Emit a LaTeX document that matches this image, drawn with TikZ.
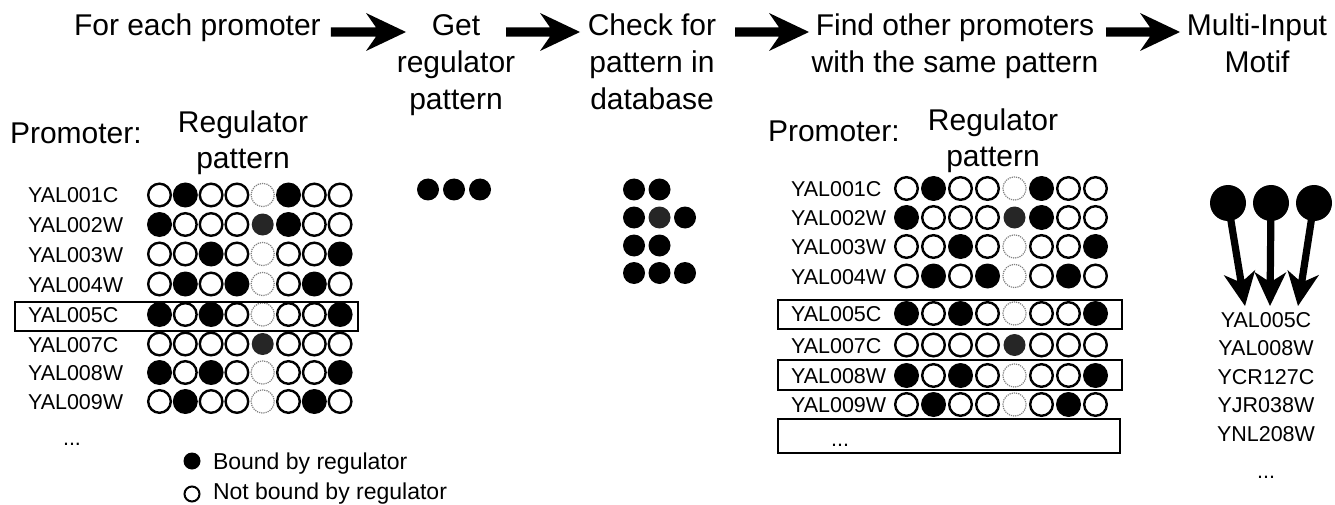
\documentclass[tikz,border=0pt]{standalone}
\usepackage{fontspec}
\setmainfont{Liberation Sans}
\usetikzlibrary{calc}

% one row of regulator-binding circles: x of first centre, y of centre, pitch, list of styles
\newcommand\patrow[4]{%
  \foreach \s [count=\j from 0] in {#4} {\path[\s] (#1+\j*#3, #2) circle;}}

% solid block arrow from coordinate #1 to tip coordinate #2:
% #3 half shaft width, #4 head length, #5 half head width, #6 notch depth
\newcommand\fatarrow[6]{%
  \coordinate (fa-h) at ($(#2)!#4!(#1)$);
  \coordinate (fa-j) at ($(#2)!#4-#6!(#1)$);
  \fill ($(#1)!#3!90:(#2)$) -- ($(fa-j)!#3!90:(#2)$) -- ($(fa-h)!#5!90:(#2)$)
     -- (#2) -- ($(fa-h)!#5!-90:(#2)$) -- ($(fa-j)!#3!-90:(#2)$)
     -- ($(#1)!#3!-90:(#2)$) -- cycle;}

\begin{document}
\begin{tikzpicture}[x=1pt,y=-1pt,
  hdr/.style={font=\fontsize{30}{37}\selectfont, align=center, anchor=north, inner sep=0pt, outer sep=0pt},
  colhdr/.style={font=\fontsize{30}{36}\selectfont, align=center, anchor=north, inner sep=0pt, outer sep=0pt},
  promo/.style={font=\fontsize{30}{36}\selectfont, anchor=base west, inner sep=0pt, outer sep=0pt},
  gene/.style={font=\fontsize{21.5}{26}\selectfont, anchor=base west, inner sep=0pt, outer sep=0pt},
  genec/.style={gene, anchor=base},
  legend/.style={font=\fontsize{23}{27}\selectfont, anchor=base west, inner sep=0pt, outer sep=0pt},
  co/.style={draw=black, line width=2.4pt, radius=11.3pt},
  cf/.style={fill=black, radius=12.5pt},
  cd/.style={draw=black!50, densely dotted, line width=1.2pt, radius=11.6pt},
  cg/.style={fill=black!85, radius=11pt},
  pick/.style={fill=black, radius=11pt},
  rowbox/.style={draw=black, line width=2pt},
  regdot/.style={circle, fill=black, minimum size=36pt, inner sep=0pt, outer sep=0pt},
]
\useasboundingbox (0,0) rectangle (1335,505);

% ---------------- workflow header ----------------
\node[hdr, anchor=north west] (N1) at (74,10.1) {\strut For each promoter};
\node[hdr] (N2) at (456,10.1) {\strut Get\\regulator\\pattern};
\node[hdr] (N3) at (652,10.1) {\strut Check for\\pattern in\\database};
\node[hdr] (N4) at (955,10.1) {\strut Find other promoters\\with the same pattern};
\node[hdr] (N5) at (1257,10.1) {\strut Multi-Input\\Motif};
\coordinate (ay) at (0,32);
\coordinate (a1s) at ($(N1.east |- ay)+(10,0)$);
\coordinate (a1e) at ($(N2.north |- ay)+(-50,0)$);
\coordinate (a2s) at ($(N2.north |- ay)+(50,0)$);
\coordinate (a2e) at ($(N3.north |- ay)+(-72,0)$);
\coordinate (a3s) at ($(N3.north |- ay)+(83,0)$);
\coordinate (a3e) at ($(N4.north |- ay)+(-146,0)$);
\coordinate (a4s) at ($(N4.north |- ay)+(151,0)$);
\coordinate (a4e) at ($(N5.north |- ay)+(-77,0)$);
\fatarrow{a1s}{a1e}{4.6pt}{40pt}{19pt}{10pt}
\fatarrow{a2s}{a2e}{4.6pt}{40pt}{19pt}{10pt}
\fatarrow{a3s}{a3e}{4.6pt}{40pt}{19pt}{10pt}
\fatarrow{a4s}{a4e}{4.6pt}{40pt}{19pt}{10pt}

% ---------------- left table: all promoters ----------------
\node[promo] (LP) at (10,144) {Promoter:};
\node[colhdr] (LR) at (243,107.8) {\strut Regulator\\pattern};

\node[gene] (L1) at (28,203)   {YAL001C};
\node[gene] (L2) at (28,232.5) {YAL002W};
\node[gene] (L3) at (28,262)   {YAL003W};
\node[gene] (L4) at (28,292)   {YAL004W};
\node[gene] (L5) at (28,322.5) {YAL005C};
\node[gene] (L7) at (28,352)   {YAL007C};
\node[gene] (L8) at (28,380.5) {YAL008W};
\node[gene] (L9) at (28,409.5) {YAL009W};
\node[genec] (Ld) at (72,445) {...};

\patrow{159.5}{195}{25.8}{co,cf,co,co,cd,cf,co,co}
\patrow{159.5}{224.5}{25.8}{cf,co,co,co,cg,cf,co,co}
\patrow{159.5}{254}{25.8}{co,co,cf,co,cd,co,co,cf}
\patrow{159.5}{284}{25.8}{co,cf,co,cf,cd,co,cf,co}
\patrow{159.5}{314.5}{25.8}{cf,co,cf,co,cd,co,co,cf}
\patrow{159.5}{344}{25.8}{co,co,co,co,cg,co,co,co}
\patrow{159.5}{372.5}{25.8}{cf,co,cf,co,cd,co,co,cf}
\patrow{159.5}{401.5}{25.8}{co,cf,co,co,cd,co,cf,co}

\draw[rowbox] (15,301.5) rectangle (358,330.5);

% legend
\fill (192,461) circle[radius=8.5pt];
\node[legend] (LB) at (213,469) {Bound by regulator};
\draw[line width=2pt] (192,494) circle[radius=7.5pt];
\node[legend] (LN) at (213,499.5) {Not bound by regulator};

% ---------------- extracted pattern and database ----------------
\patrow{428}{189.5}{26}{pick,pick,pick}
\patrow{634}{189.5}{25.5}{pick,pick}
\patrow{634}{217.5}{25.5}{pick,cg,pick}
\patrow{634}{245.5}{25.5}{pick,pick}
\patrow{634}{273}{25.5}{pick,pick,pick}

% ---------------- right table: promoters sharing the pattern ----------------
\node[promo] (RP) at (768,142) {Promoter:};
\node[colhdr] (RR) at (993,105.8) {\strut Regulator\\pattern};

\node[gene] (R1) at (791,196.5) {YAL001C};
\node[gene] (R2) at (791,225.5) {YAL002W};
\node[gene] (R3) at (791,254.5) {YAL003W};
\node[gene] (R4) at (791,284)   {YAL004W};
\node[gene] (R5) at (791,321.5) {YAL005C};
\node[gene] (R7) at (791,353)   {YAL007C};
\node[gene] (R8) at (791,383.5) {YAL008W};
\node[gene] (R9) at (791,412.5) {YAL009W};
\node[genec] (Rd) at (840,446) {...};

\patrow{906.5}{188.5}{27}{co,cf,co,co,cd,cf,co,co}
\patrow{906.5}{217.5}{27}{cf,co,co,co,cg,cf,co,co}
\patrow{906.5}{246.5}{27}{co,co,cf,co,cd,co,co,cf}
\patrow{906.5}{276}{27}{co,cf,co,cf,cd,co,cf,co}
\patrow{906.5}{313.5}{27}{cf,co,cf,co,cd,co,co,cf}
\patrow{906.5}{345}{27}{co,co,co,co,cg,co,co,co}
\patrow{906.5}{375.5}{27}{cf,co,cf,co,cd,co,co,cf}
\patrow{906.5}{404.5}{27}{co,cf,co,co,cd,co,cf,co}

\draw[rowbox] (778,300) rectangle (1122,329);
\draw[rowbox] (778,360) rectangle (1122,390);
\draw[rowbox] (778,419) rectangle (1120,453);

% ---------------- multi-input motif ----------------
\node[genec] (G1) at (1266,327)   {YAL005C};
\node[genec] (G2) at (1266,355.5) {YAL008W};
\node[genec] (G3) at (1266,384)   {YCR127C};
\node[genec] (G4) at (1266,412.5) {YJR038W};
\node[genec] (G5) at (1266,441)   {YNL208W};
\node[genec] (G6) at (1266,478)   {...};

\node[regdot] (M1) at (1228,203) {};
\node[regdot] (M2) at (1271,203) {};
\node[regdot] (M3) at (1314,203) {};
\coordinate (t1) at ($(G1.north)+(-21,-6)$);
\coordinate (t2) at ($(G1.north)+(4,-6)$);
\coordinate (t3) at ($(G1.north)+(32,-6)$);
\fatarrow{M1.center}{t1}{3.6pt}{34pt}{16pt}{8pt}
\fatarrow{M2.center}{t2}{3.6pt}{34pt}{16pt}{8pt}
\fatarrow{M3.center}{t3}{3.6pt}{34pt}{16pt}{8pt}
\end{tikzpicture}
\end{document}
